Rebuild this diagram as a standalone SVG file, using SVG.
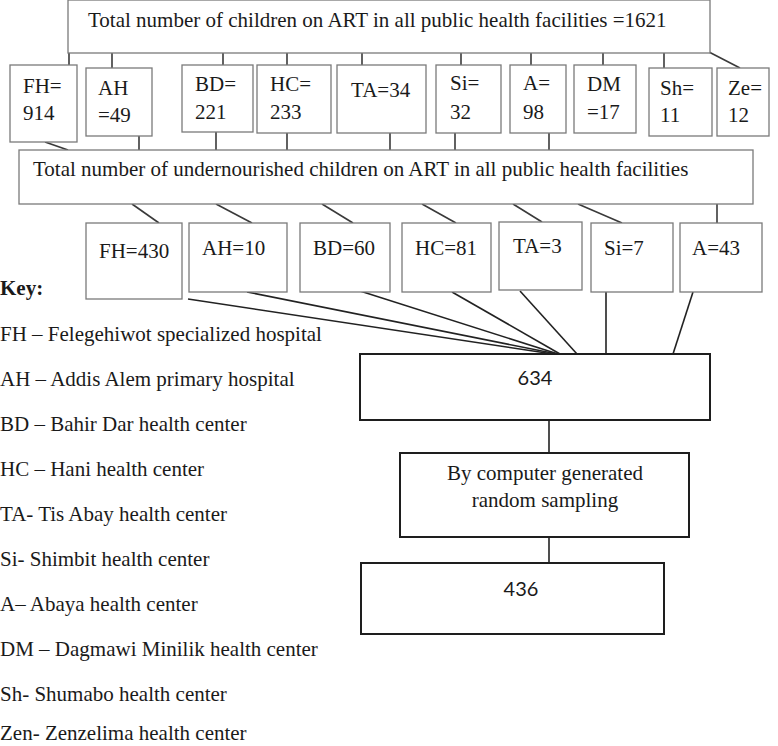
<svg xmlns="http://www.w3.org/2000/svg" width="778" height="746" viewBox="0 0 778 746">
  <style>
    .bg { fill: #ffffff; }
    .box { fill: #ffffff; stroke: #7a7a7a; stroke-width: 1.3; }
    .bbox { fill: #ffffff; stroke: #1e1e1e; stroke-width: 2; }
    .ln { stroke: #3a3a3a; stroke-width: 1.6; fill: none; }
    .lnd { stroke: #222222; stroke-width: 1.6; fill: none; }
    text { font-family: "Liberation Serif", "Times New Roman", serif; font-size: 21px; fill: #1a1a1a; }
    .num { font-family: Lato, "Liberation Sans", sans-serif; font-size: 20px; }
    .key { font-weight: bold; }
  </style>
  <rect class="bg" x="0" y="0" width="778" height="746"/>

  <!-- connectors -->
  <g id="connectors">
    <!-- total box to facility boxes -->
    <line class="ln" x1="69" y1="53" x2="69" y2="65"/>
    <line class="ln" x1="112" y1="53" x2="112" y2="68"/>
    <line class="ln" x1="223" y1="53" x2="223" y2="65"/>
    <line class="ln" x1="287" y1="53" x2="287" y2="65"/>
    <line class="ln" x1="362" y1="53" x2="362" y2="65"/>
    <line class="ln" x1="461" y1="53" x2="461" y2="65"/>
    <line class="ln" x1="531" y1="53" x2="531" y2="65"/>
    <line class="ln" x1="603" y1="53" x2="603" y2="65"/>
    <line class="ln" x1="664" y1="53" x2="664" y2="68"/>
    <line class="ln" x1="709" y1="52" x2="740" y2="68"/>
    <!-- facility boxes to undernourished box -->
    <line class="ln" x1="45" y1="142" x2="68" y2="150"/>
    <line class="ln" x1="139" y1="136" x2="139" y2="150"/>
    <line class="ln" x1="216" y1="132" x2="216" y2="150"/>
    <line class="ln" x1="287" y1="133" x2="287" y2="150"/>
    <line class="ln" x1="390" y1="133" x2="390" y2="150"/>
    <line class="ln" x1="455" y1="133" x2="455" y2="150"/>
    <line class="ln" x1="549" y1="133" x2="549" y2="150"/>
    <!-- undernourished box to facility counts -->
    <line class="ln" x1="132" y1="204" x2="159" y2="223"/>
    <line class="ln" x1="216" y1="204" x2="252" y2="223"/>
    <line class="ln" x1="322" y1="204" x2="353" y2="223"/>
    <line class="ln" x1="422" y1="204" x2="456" y2="223"/>
    <line class="ln" x1="513" y1="204" x2="542" y2="222"/>
    <line class="ln" x1="578" y1="204" x2="622" y2="223"/>
    <line class="ln" x1="717" y1="204" x2="717" y2="223"/>
    <!-- facility counts converging on 634 -->
    <line class="lnd" x1="188" y1="299" x2="553" y2="354"/>
    <line class="lnd" x1="247" y1="292" x2="557" y2="354"/>
    <line class="lnd" x1="360" y1="291" x2="558" y2="354"/>
    <line class="lnd" x1="452" y1="292" x2="560" y2="354"/>
    <line class="lnd" x1="520" y1="291" x2="577" y2="354"/>
    <line class="lnd" x1="606" y1="292" x2="606" y2="354"/>
    <line class="lnd" x1="693" y1="292" x2="673" y2="354"/>
    <!-- lower chain -->
    <line class="lnd" x1="549" y1="420" x2="549" y2="453"/>
    <line class="lnd" x1="549" y1="537" x2="549" y2="563"/>
  </g>

  <g id="total">
    <rect class="box" x="68" y="0" width="642" height="53"/>
    <text x="88" y="27">Total number of children on ART in all public health facilities =1621</text>
  </g>

  <g id="fh1"><rect class="box" x="10" y="65" width="67" height="77"/><text x="23" y="93">FH=</text><text x="23" y="120">914</text></g>
  <g id="ah1"><rect class="box" x="86" y="68" width="66" height="68"/><text x="98" y="95">AH</text><text x="98" y="122">=49</text></g>
  <g id="bd1"><rect class="box" x="182" y="65" width="71" height="67"/><text x="195" y="91">BD=</text><text x="195" y="119">221</text></g>
  <g id="hc1"><rect class="box" x="257" y="65" width="74" height="68"/><text x="270" y="91">HC=</text><text x="270" y="119">233</text></g>
  <g id="ta1"><rect class="box" x="337" y="65" width="89" height="68"/><text x="351" y="97">TA=34</text></g>
  <g id="si1"><rect class="box" x="436" y="65" width="65" height="68"/><text x="450" y="90">Si=</text><text x="450" y="119">32</text></g>
  <g id="a1"><rect class="box" x="510" y="65" width="56" height="68"/><text x="523" y="90">A=</text><text x="523" y="119">98</text></g>
  <g id="dm1"><rect class="box" x="574" y="65" width="62" height="68"/><text x="587" y="91">DM</text><text x="587" y="119">=17</text></g>
  <g id="sh1"><rect class="box" x="649" y="68" width="63" height="68"/><text x="660" y="95">Sh=</text><text x="660" y="122">11</text></g>
  <g id="ze1"><rect class="box" x="717" y="68" width="52" height="68"/><text x="728" y="95">Ze=</text><text x="728" y="122">12</text></g>

  <g id="undernourished">
    <rect class="box" x="19" y="150" width="734" height="54"/>
    <text x="33" y="176">Total number of undernourished children on ART in all public health facilities</text>
  </g>

  <g id="fh2"><rect class="box" x="86" y="223" width="96" height="76"/><text x="99" y="258">FH=430</text></g>
  <g id="ah2"><rect class="box" x="189" y="223" width="98" height="69"/><text x="202" y="255">AH=10</text></g>
  <g id="bd2"><rect class="box" x="300" y="223" width="90" height="69"/><text x="313" y="255">BD=60</text></g>
  <g id="hc2"><rect class="box" x="402" y="223" width="89" height="69"/><text x="415" y="255">HC=81</text></g>
  <g id="ta2"><rect class="box" x="499" y="222" width="83" height="68"/><text x="513" y="253">TA=3</text></g>
  <g id="si2"><rect class="box" x="591" y="223" width="82" height="69"/><text x="604" y="255">Si=7</text></g>
  <g id="a2"><rect class="box" x="680" y="223" width="82" height="69"/><text x="692" y="255">A=43</text></g>

  <g id="n634">
    <rect class="bbox" x="360" y="354" width="350" height="66"/>
    <text class="num" x="535" y="385" text-anchor="middle">634</text>
  </g>
  <g id="sampling">
    <rect class="bbox" x="400" y="453" width="289" height="84"/>
    <text x="545" y="480" text-anchor="middle">By computer generated</text>
    <text x="545" y="507" text-anchor="middle">random sampling</text>
  </g>
  <g id="n436">
    <rect class="bbox" x="361" y="563" width="303" height="71"/>
    <text class="num" x="521" y="596" text-anchor="middle">436</text>
  </g>

  <g id="legend">
    <text class="key" x="0" y="295">Key:</text>
    <text x="0" y="341">FH – Felegehiwot specialized hospital</text>
    <text x="0" y="386">AH – Addis Alem primary hospital</text>
    <text x="0" y="431">BD – Bahir Dar health center</text>
    <text x="0" y="476">HC – Hani health center</text>
    <text x="0" y="521">TA- Tis Abay health center</text>
    <text x="0" y="566">Si- Shimbit health center</text>
    <text x="0" y="611">A– Abaya health center</text>
    <text x="0" y="656">DM – Dagmawi Minilik health center</text>
    <text x="0" y="701">Sh- Shumabo health center</text>
    <text x="0" y="740">Zen- Zenzelima health center</text>
  </g>
</svg>
